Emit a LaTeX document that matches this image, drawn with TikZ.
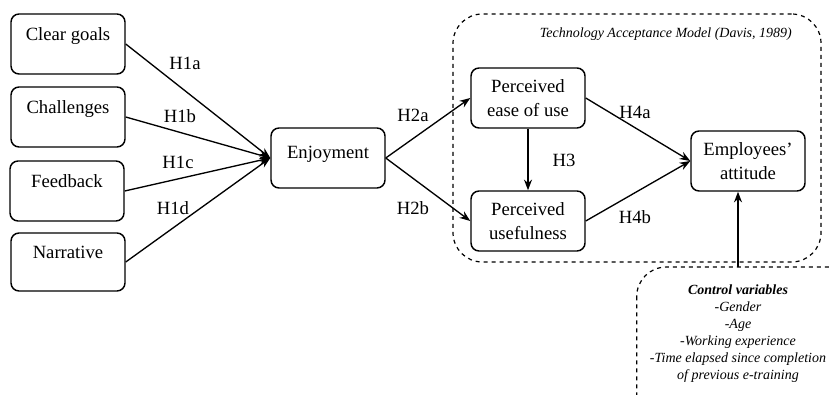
\documentclass[tikz,border=0pt]{standalone}
\usepackage{fontspec}
\setmainfont{Liberation Serif}
\usetikzlibrary{arrows.meta}

\begin{document}
\begin{tikzpicture}[x=0.75pt,y=0.75pt,yscale=-1,xscale=1,
    box/.style={draw,line width=1.1pt,rounded corners=6pt,minimum width=85.5pt,minimum height=45pt,align=center,font=\fontsize{14}{18}\selectfont,inner sep=2pt},
    hyp/.style={font=\fontsize{14}{17}\selectfont,inner sep=0.75pt},
    link/.style={line width=1pt,-{Stealth[length=8pt,width=6pt]}},
    zone/.style={draw,dashed,line width=0.9pt,rounded corners=22pt}]

    \useasboundingbox (0,0) rectangle (831,395);
    \clip (0,0) rectangle (831,395);

    % dashed frames
    \node [zone,minimum width=276pt,minimum height=186pt] (tam) at (637,138) {};
    \node [anchor=east,inner sep=0.75pt,font=\fontsize{10.5}{12}\selectfont\itshape] (tamlabel) at (793,34) {Technology Acceptance Model (Davis, 1989)};
    \node [minimum width=151.5pt,minimum height=100pt,align=center,font=\fontsize{10.5}{12.75}\selectfont\itshape] (ctrl) at (738,334)
        {\textbf{Control variables}\\-Gender\\-Age\\-Working experience\\-Time elapsed since completion\\of previous e-training};
    \draw [zone] (ctrl.north west) rectangle ([xshift=15pt,yshift=40pt]ctrl.south east);

    % boxes
    \node [box] (goals) at (68,44) {Clear goals\\[-9pt]\strut};
    \node [box] (chall) at (68,117) {Challenges\\[-9pt]\strut};
    \node [box] (feed) at (67,191) {Feedback\\[-9pt]\strut};
    \node [box,minimum height=43.5pt] (narr) at (68,262) {Narrative\\[-9pt]\strut};
    \node [box] (enjoy) at (328,158) {Enjoyment\\[-15pt]\strut};
    \node [box] (peou) at (528,98) {Perceived\\ease of use};
    \node [box] (pu) at (528,221) {Perceived\\usefulness};
    \node [box] (att) at (748,161) {Employees'\\attitude};

    % arrows
    \draw [link] (goals.east) -- (enjoy.west);
    \draw [link] (chall.east) -- (enjoy.west);
    \draw [link] (feed.east) -- (enjoy.west);
    \draw [link] (narr.east) -- (enjoy.west);
    \draw [link] (enjoy.east) -- (peou.west);
    \draw [link] (enjoy.east) -- (pu.west);
    \draw [link] (peou.south) -- (pu.north);
    \draw [link] (peou.east) -- (att.west);
    \draw [link] (pu.east) -- (att.west);
    \draw [link] (ctrl.north) -- (ctrl.north |- att.south);

    % labels
    \node [hyp] (h1a) at (185,63) {H1a};
    \node [hyp] (h1b) at (180,116) {H1b};
    \node [hyp] (h1c) at (178,162) {H1c};
    \node [hyp] (h1d) at (173,208) {H1d};
    \node [hyp] (h2a) at (413,115) {H2a};
    \node [hyp] (h2b) at (413,208) {H2b};
    \node [hyp] (h3) at (564,160) {H3};
    \node [hyp] (h4a) at (635,112) {H4a};
    \node [hyp] (h4b) at (635,217) {H4b};
\end{tikzpicture}
\end{document}
